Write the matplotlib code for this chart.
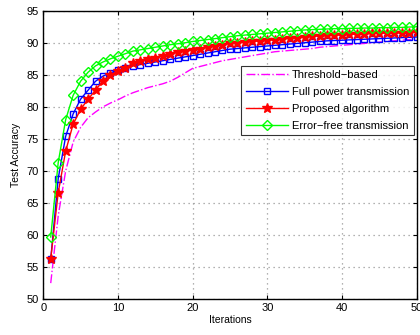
import numpy as np
import matplotlib
matplotlib.use("Agg")
import matplotlib.pyplot as plt

plt.rcParams['font.family'] = ['Liberation Sans', 'DejaVu Sans']

iterations = list(range(1, 51))

threshold_based = [52.5, 63.0, 70.0, 74.5, 76.8, 78.3, 79.2, 80.0, 80.6, 81.1,
                   81.7, 82.2, 82.6, 83.0, 83.3, 83.6, 84.0, 84.6, 85.3, 86.0,
                   86.3, 86.6, 86.9, 87.2, 87.4, 87.6, 87.8, 88.0, 88.2, 88.4,
                   88.6, 88.7, 88.8, 88.9, 89.0, 89.1, 89.3, 89.4, 89.5, 89.6,
                   89.7, 89.8, 89.9, 90.0, 90.1, 90.2, 90.3, 90.4, 90.5, 90.6]

full_power = [56.2, 68.8, 75.4, 78.9, 81.2, 82.6, 84.0, 84.8, 85.3, 85.7,
              86.1, 86.4, 86.6, 86.8, 87.0, 87.2, 87.4, 87.6, 87.8, 88.0,
              88.2, 88.4, 88.6, 88.8, 89.0, 89.1, 89.2, 89.3, 89.4, 89.5,
              89.6, 89.7, 89.8, 89.9, 90.0, 90.1, 90.2, 90.3, 90.35, 90.4,
              90.45, 90.5, 90.55, 90.6, 90.65, 90.7, 90.75, 90.8, 90.85, 90.9]

proposed = [56.3, 66.6, 73.1, 77.3, 79.6, 81.2, 82.6, 84.1, 85.0, 85.6,
            86.1, 86.8, 87.1, 87.4, 87.7, 88.0, 88.3, 88.5, 88.7, 88.9,
            89.1, 89.3, 89.5, 89.7, 89.9, 90.0, 90.1, 90.2, 90.3, 90.4,
            90.5, 90.6, 90.7, 90.8, 90.9, 91.0, 91.1, 91.15, 91.2, 91.25,
            91.3, 91.35, 91.4, 91.45, 91.5, 91.5, 91.55, 91.6, 91.6, 91.65]

error_free = [59.7, 71.3, 78.0, 81.8, 84.0, 85.4, 86.4, 87.0, 87.5, 87.9,
              88.3, 88.7, 88.9, 89.1, 89.3, 89.5, 89.7, 89.85, 90.0, 90.2,
              90.35, 90.5, 90.65, 90.8, 90.95, 91.1, 91.2, 91.3, 91.4, 91.5,
              91.6, 91.7, 91.8, 91.9, 92.0, 92.05, 92.1, 92.15, 92.2, 92.2,
              92.25, 92.25, 92.3, 92.3, 92.35, 92.35, 92.4, 92.4, 92.45, 92.5]

x_ticks = [0, 10, 20, 30, 40, 50]
y_ticks = [50, 55, 60, 65, 70, 75, 80, 85, 90, 95]

fig = plt.figure(figsize=(4.2, 3.35), dpi=100)
ax = fig.add_axes([0.103, 0.107, 0.889, 0.861])

ax.plot(iterations, threshold_based, color='#ff00ff', linestyle='-.', lw=1.0,
        label='Threshold\u2212based')
ax.plot(iterations, full_power, color='#0000ff', lw=1.0, marker='s', ms=5,
        mfc='none', mec='#0000ff', mew=1.0, label='Full power transmission')
ax.plot(iterations, proposed, color='#ff0000', lw=1.0, marker='*', ms=7.5,
        mfc='#ff0000', mec='#ff0000', label='Proposed algorithm')
ax.plot(iterations, error_free, color='#00ff00', lw=1.0, marker='D', ms=5,
        mfc='none', mec='#00ff00', mew=1.0, label='Error\u2212free transmission')

ax.set_xlim(0, 50)
ax.set_ylim(50, 95)
ax.set_xticks(x_ticks)
ax.set_yticks(y_ticks)
ax.tick_params(direction='in', top=True, right=True, labelsize=8, length=3,
               width=0.8, pad=3)
ax.grid(True, linestyle=(0, (1, 3)), color='#999999', linewidth=0.9)
for s in ax.spines.values():
    s.set_linewidth(1.0)

ax.set_xlabel('Iterations', fontsize=7.5, labelpad=1)
ax.set_ylabel('Test Accuracy', fontsize=7.5, labelpad=4)

leg = ax.legend(loc='upper right', bbox_to_anchor=(0.993, 0.81), fontsize=8,
                frameon=True, fancybox=False, edgecolor='black',
                borderpad=0.4, labelspacing=0.62, handlelength=3.8,
                handletextpad=0.4, borderaxespad=0.0)
leg.get_frame().set_linewidth(0.8)

fig.savefig('out.png', dpi=100)
